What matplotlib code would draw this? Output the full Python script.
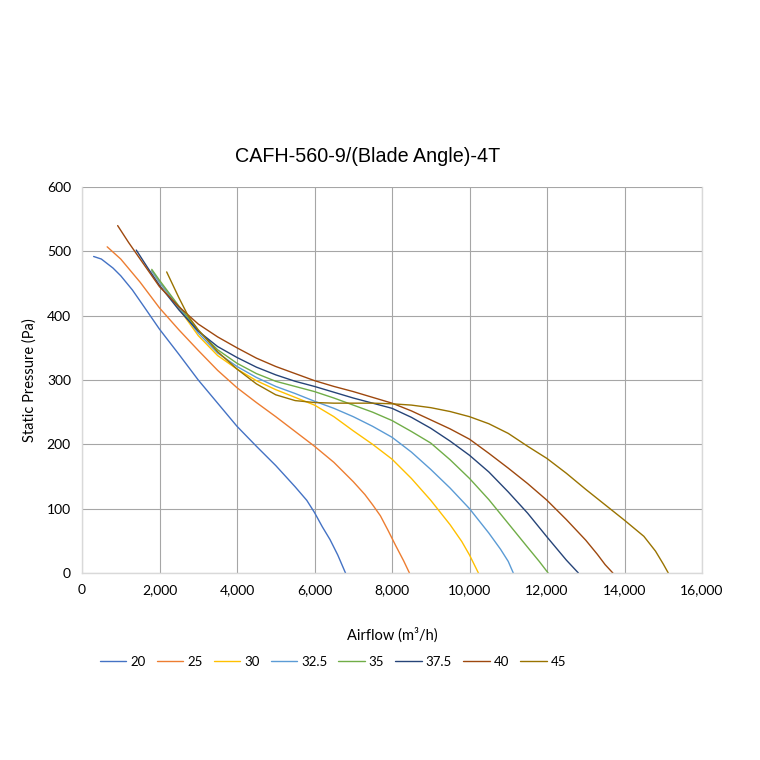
import matplotlib
matplotlib.use("Agg")
import matplotlib.pyplot as plt
from matplotlib.ticker import FuncFormatter, MultipleLocator

# ---- data ----
labels = ["20", "25", "30", "32.5", "35", "37.5", "40", "45"]
colors = ["#4472C4", "#ED7D31", "#FFC000", "#5B9BD5", "#70AD47", "#264478", "#9E480E", "#997300"]

x20 = [300, 500, 800, 1000, 1300, 1600, 2000, 2500, 3000, 3500, 4000, 4500, 5000, 5500, 5800, 6000, 6200, 6400, 6600, 6800]
p20 = [492, 488, 474, 462, 440, 414, 379, 340, 300, 264, 228, 197, 167, 134, 113, 94, 72, 52, 28, 0]

x25 = [650, 1000, 1500, 2000, 2500, 3000, 3500, 4000, 4500, 5000, 5500, 6000, 6500, 7000, 7300, 7500, 7700, 7900, 8100, 8300, 8450]
p25 = [507, 488, 452, 412, 378, 346, 315, 288, 265, 243, 220, 197, 172, 142, 122, 106, 89, 66, 42, 19, 0]

x30 = [1800, 2000, 2500, 3000, 3500, 4000, 4500, 5000, 5500, 6000, 6500, 7000, 7500, 8000, 8500, 9000, 9500, 9800, 10000, 10230]
p30 = [470, 452, 411, 369, 338, 317, 299, 285, 273, 261, 243, 221, 200, 177, 147, 113, 75, 49, 28, 0]

x325 = [1800, 2000, 2500, 3000, 3500, 4000, 4500, 5000, 5500, 6000, 6500, 7000, 7500, 8000, 8500, 9000, 9500, 10000, 10500, 10800, 11000, 11130]
p325 = [470, 452, 413, 373, 342, 321, 304, 290, 279, 267, 256, 243, 228, 211, 188, 161, 132, 100, 62, 37, 18, 0]

x35 = [1800, 2000, 2500, 3000, 3500, 4000, 4500, 5000, 5500, 6000, 6500, 7000, 7500, 8000, 8500, 9000, 9500, 10000, 10500, 11000, 11500, 11800, 12030]
p35 = [472, 455, 415, 377, 347, 326, 310, 298, 290, 282, 272, 261, 250, 237, 220, 202, 176, 147, 114, 77, 40, 18, 0]

x375 = [1400, 1700, 2000, 2500, 3000, 3500, 4000, 4500, 5000, 5500, 6000, 6500, 7000, 7500, 8000, 8500, 9000, 9500, 10000, 10500, 11000, 11500, 12000, 12250, 12500, 12810]
p375 = [502, 474, 447, 409, 376, 352, 335, 320, 308, 298, 290, 281, 272, 264, 256, 242, 225, 205, 183, 157, 126, 93, 56, 38, 20, 0]

x40 = [920, 1200, 1500, 2000, 2500, 3000, 3500, 4000, 4500, 5000, 5500, 6000, 6500, 7000, 7500, 8000, 8500, 9000, 9500, 10000, 10500, 11000, 11500, 12000, 12500, 13000, 13300, 13500, 13700]
p40 = [540, 514, 488, 445, 414, 387, 367, 350, 334, 321, 310, 299, 290, 282, 273, 264, 252, 238, 224, 208, 186, 163, 139, 113, 83, 51, 29, 13, 0]

x45 = [2185, 2500, 2745, 3000, 3500, 4000, 4500, 5000, 5500, 6000, 6500, 7000, 7500, 8000, 8500, 9000, 9500, 10000, 10500, 11000, 11500, 12000, 12500, 13000, 13500, 14000, 14500, 14800, 15000, 15130]
p45 = [468, 428, 399, 378, 344, 317, 294, 277, 268, 265, 264, 264, 264, 263, 261, 257, 251, 243, 232, 217, 197, 178, 155, 130, 106, 82, 57, 34, 14, 0]

xs = [x20, x25, x30, x325, x35, x375, x40, x45]
ps = [p20, p25, p30, p325, p35, p375, p40, p45]

title = "CAFH-560-9/(Blade Angle)-4T"
xlabel = "Airflow (m³/h)"
ylabel = "Static Pressure (Pa)"

# ---- figure ----
tick_font = "Lato"
fig = plt.figure(figsize=(7.6, 7.6), dpi=100)
ax = fig.add_axes([82 / 760, 1 - 573 / 760, 620 / 760, 386 / 760])

for x, p, lab, c in zip(xs, ps, labels, colors):
    ax.plot(x, p, color=c, lw=1.0, label=lab, solid_joinstyle="round", solid_capstyle="round")

ax.set_xlim(0, 16000)
ax.set_ylim(0, 600)
ax.xaxis.set_major_locator(MultipleLocator(2000))
ax.yaxis.set_major_locator(MultipleLocator(100))
ax.xaxis.set_major_formatter(FuncFormatter(lambda v, _: f"{int(v):,}"))
ax.grid(True, color="#A6A6A6", lw=0.8)
ax.set_axisbelow(True)
ax.spines["top"].set_visible(False)
for s in ["left", "bottom", "right"]:
    ax.spines[s].set_color("#D9D9D9")
    ax.spines[s].set_linewidth(1.0)
ax.tick_params(length=0, pad=8, labelsize=10, colors="#000000")
for t in ax.get_xticklabels() + ax.get_yticklabels():
    t.set_fontfamily(tick_font)

fig.text(368 / 760, 1 - 157 / 760, title, ha="center", va="center",
         fontsize=14.2, family="Liberation Sans")
fig.text(392 / 760, 1 - 635 / 760, xlabel, ha="center", va="center",
         fontsize=10.5, family=tick_font)
fig.text(30 / 760, 1 - 380 / 760, ylabel, ha="center", va="center",
         rotation=90, fontsize=10.5, family=tick_font)

leg = fig.legend(loc="center", bbox_to_anchor=(333 / 760, 1 - 662 / 760), ncol=8,
                 frameon=False, handlelength=2.0, columnspacing=0.85, handletextpad=0.3,
                 prop={"family": tick_font, "size": 9.5})

fig.savefig("out.png", dpi=100)
